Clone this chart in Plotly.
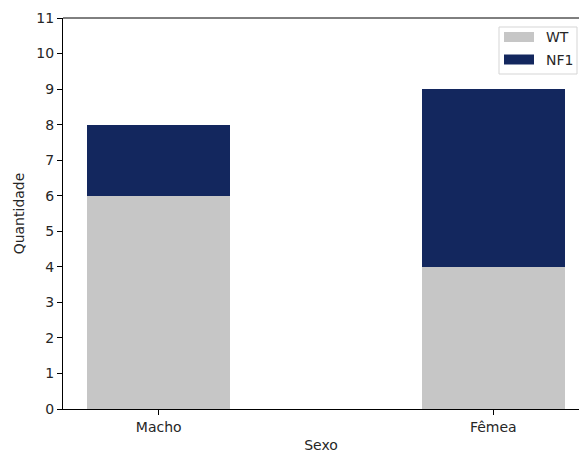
import plotly.graph_objects as go

# Counts per sex and genotype
sexos = ["Macho", "Fêmea"]
wt = [6, 4]
nf1 = [2, 5]
serie_nomes = ["WT", "NF1"]
cores = ["#c6c6c6", "#13275e"]
y_ticks = list(range(0, 12))

W, H = 579, 453
L, T, B, R = 63, 18, 44, 0
pw, ph = W - L - R, H - T - B

x_pos = [0, 1]
bar_w = 0.427

fig = go.Figure()
for nome, vals, cor in zip(serie_nomes, [wt, nf1], cores):
    fig.add_trace(go.Bar(x=x_pos, y=vals, name=nome, marker=dict(color=cor, line=dict(width=0)),
                         width=bar_w, showlegend=False))

font = dict(family="DejaVu Sans", size=14, color="#262626")

fig.update_layout(
    width=W, height=H, barmode="stack",
    margin=dict(l=L, r=R, t=T, b=B, pad=0),
    paper_bgcolor="white", plot_bgcolor="white",
    font=font,
    xaxis=dict(range=[-0.286, 1.256], tickvals=x_pos, ticktext=sexos,
               ticks="outside", ticklen=5, tickwidth=1, tickcolor="black",
               showline=True, linecolor="black", linewidth=1,
               showgrid=False, zeroline=False, tickfont=font,
               title=dict(text="Sexo", font=font, standoff=6)),
    yaxis=dict(range=[0, 11], tickvals=y_ticks,
               ticks="outside", ticklen=5, tickwidth=1, tickcolor="black",
               showline=True, linecolor="black", linewidth=1,
               showgrid=False, zeroline=False, tickfont=font,
               title=dict(text="Quantidade", font=font, standoff=8)),
)

# Top spine
fig.add_shape(type="line", xref="paper", yref="paper", x0=0, x1=1, y0=1, y1=1,
              line=dict(color="black", width=1))

# Legend box drawn in pixel positions converted to paper coordinates
def px(xp):
    return (xp - L) / pw

def py(yp):
    return (H - B - yp) / ph

fig.add_shape(type="rect", xref="paper", yref="paper",
              x0=px(499), x1=px(577), y0=py(74), y1=py(27),
              line=dict(color="#d5d5d5", width=1), fillcolor="rgba(255,255,255,0.8)")
for i, (nome, cor) in enumerate(zip(serie_nomes, cores)):
    yc = 37 + i * 22.5
    fig.add_shape(type="rect", xref="paper", yref="paper",
                  x0=px(504), x1=px(534), y0=py(yc + 5), y1=py(yc - 5),
                  line=dict(width=0), fillcolor=cor)
    fig.add_annotation(xref="paper", yref="paper", x=px(544), y=py(yc),
                       text=nome, showarrow=False, xanchor="left", yanchor="middle",
                       font=font)

fig.write_html("out.html", config={"displayModeBar": False})
